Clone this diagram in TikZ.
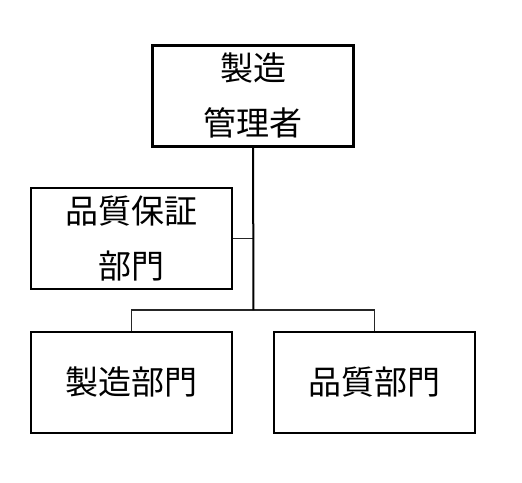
\documentclass[tikz,border=0pt]{standalone}
\usepackage{fontspec}
\newfontfamily\cjk{Noto Sans CJK JP}
\begin{document}
\begin{tikzpicture}[x=1pt,y=1pt,
  box/.style={draw=black, line width=2pt, fill=white, inner sep=0pt,
    minimum width=201pt, minimum height=101pt, align=center,
    font=\cjk\fontsize{33pt}{55pt}\selectfont},
  topbox/.style={box, line width=2.8pt},
  trunk/.style={draw=black, line width=2pt},
  branch/.style={draw=black!85, line width=1.3pt}]
\useasboundingbox (0,0) rectangle (522,-482);
\node[topbox] (top) at (253.2,-95.9) {製造\\管理者};
\node[box] (qa) at (131.7,-238.8) {品質保証\\部門};
\node[box] (mfg) at (131.7,-382.2) {製造部門};
\node[box] (qual) at (374.6,-382.2) {品質部門};
\coordinate (j) at (253.3,-310);
\coordinate (qaj) at (253.3,-238.3);
\draw[branch] (mfg.north) |- (j) -| (qual.north);
\draw[branch] (qaj) -- (qaj -| qa.east);
\draw[trunk] (top.south) -- (j);
\end{tikzpicture}
\end{document}
